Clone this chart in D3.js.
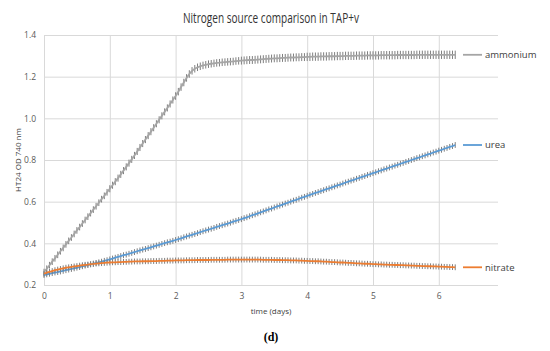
<!DOCTYPE html>
<html>
<head>
<meta charset="utf-8">
<script src="https://cdn.jsdelivr.net/npm/d3@7"></script>
<style>
  body { margin: 0; background: #fff; }
  svg { display: block; }
  text { font-family: "Open Sans", "Noto Sans", sans-serif; }
</style>
</head>
<body>
<div id="chart"></div>
<script>
// hourly readings, 0 .. 150 h
var ammonium = [
  0.262, 0.278, 0.295, 0.312, 0.328, 0.345, 0.362, 0.378, 0.395, 0.412, 0.428, 0.445,
  0.462, 0.478, 0.495, 0.512, 0.528, 0.545, 0.562, 0.578, 0.595, 0.612, 0.628, 0.645,
  0.662, 0.679, 0.696, 0.713, 0.731, 0.749, 0.767, 0.785, 0.803, 0.822, 0.841, 0.860,
  0.879, 0.898, 0.917, 0.936, 0.955, 0.974, 0.993, 1.012, 1.031, 1.050, 1.069, 1.088,
  1.107, 1.128, 1.150, 1.172, 1.194, 1.213, 1.228, 1.238, 1.245, 1.250, 1.254, 1.257,
  1.260, 1.262, 1.264, 1.266, 1.267, 1.269, 1.270, 1.271, 1.272, 1.273, 1.275, 1.276,
  1.277, 1.278, 1.279, 1.280, 1.280, 1.281, 1.282, 1.283, 1.284, 1.285, 1.286, 1.287,
  1.288, 1.288, 1.289, 1.290, 1.290, 1.291, 1.292, 1.292, 1.293, 1.293, 1.294, 1.294,
  1.295, 1.295, 1.296, 1.296, 1.296, 1.297, 1.297, 1.297, 1.298, 1.298, 1.298, 1.299,
  1.299, 1.299, 1.300, 1.300, 1.300, 1.300, 1.301, 1.301, 1.301, 1.301, 1.302, 1.302,
  1.302, 1.302, 1.302, 1.303, 1.303, 1.303, 1.303, 1.303, 1.303, 1.304, 1.304, 1.304,
  1.304, 1.304, 1.304, 1.304, 1.305, 1.305, 1.305, 1.305, 1.305, 1.305, 1.305, 1.305,
  1.305, 1.305, 1.305, 1.305, 1.305, 1.305, 1.305
];
var urea = [
  0.248, 0.251, 0.254, 0.257, 0.260, 0.262, 0.265, 0.268, 0.271, 0.274, 0.277, 0.280,
  0.283, 0.286, 0.290, 0.293, 0.296, 0.299, 0.303, 0.306, 0.309, 0.312, 0.316, 0.319,
  0.323, 0.327, 0.331, 0.335, 0.339, 0.343, 0.346, 0.350, 0.354, 0.358, 0.362, 0.366,
  0.370, 0.373, 0.377, 0.381, 0.385, 0.389, 0.393, 0.397, 0.401, 0.405, 0.408, 0.412,
  0.416, 0.420, 0.424, 0.429, 0.433, 0.437, 0.441, 0.445, 0.449, 0.454, 0.458, 0.462,
  0.466, 0.470, 0.474, 0.479, 0.483, 0.487, 0.491, 0.495, 0.499, 0.504, 0.508, 0.512,
  0.516, 0.521, 0.525, 0.530, 0.535, 0.539, 0.544, 0.549, 0.553, 0.558, 0.563, 0.567,
  0.572, 0.577, 0.581, 0.586, 0.591, 0.595, 0.600, 0.605, 0.609, 0.614, 0.619, 0.623,
  0.628, 0.633, 0.637, 0.642, 0.646, 0.651, 0.655, 0.660, 0.664, 0.669, 0.673, 0.678,
  0.682, 0.687, 0.692, 0.696, 0.701, 0.705, 0.710, 0.714, 0.719, 0.723, 0.728, 0.732,
  0.737, 0.741, 0.746, 0.750, 0.755, 0.759, 0.764, 0.768, 0.773, 0.777, 0.782, 0.786,
  0.791, 0.795, 0.800, 0.804, 0.809, 0.813, 0.818, 0.822, 0.827, 0.831, 0.836, 0.840,
  0.845, 0.849, 0.854, 0.858, 0.863, 0.867, 0.872
];
var nitrate = [
  0.254, 0.259, 0.263, 0.267, 0.271, 0.274, 0.277, 0.280, 0.283, 0.285, 0.287, 0.289,
  0.291, 0.293, 0.295, 0.297, 0.298, 0.300, 0.301, 0.303, 0.304, 0.305, 0.306, 0.307,
  0.308, 0.309, 0.309, 0.310, 0.310, 0.311, 0.311, 0.312, 0.312, 0.313, 0.313, 0.313,
  0.314, 0.314, 0.314, 0.315, 0.315, 0.315, 0.316, 0.316, 0.316, 0.317, 0.317, 0.317,
  0.318, 0.318, 0.318, 0.318, 0.319, 0.319, 0.319, 0.319, 0.320, 0.320, 0.320, 0.320,
  0.320, 0.321, 0.321, 0.321, 0.321, 0.321, 0.321, 0.322, 0.322, 0.322, 0.322, 0.322,
  0.322, 0.322, 0.322, 0.322, 0.322, 0.322, 0.322, 0.322, 0.321, 0.321, 0.321, 0.321,
  0.320, 0.320, 0.320, 0.319, 0.319, 0.319, 0.318, 0.318, 0.318, 0.317, 0.317, 0.316,
  0.316, 0.315, 0.315, 0.314, 0.314, 0.313, 0.312, 0.312, 0.311, 0.310, 0.310, 0.309,
  0.308, 0.308, 0.307, 0.306, 0.306, 0.305, 0.304, 0.304, 0.303, 0.302, 0.302, 0.301,
  0.300, 0.300, 0.299, 0.299, 0.298, 0.298, 0.297, 0.297, 0.296, 0.296, 0.295, 0.295,
  0.294, 0.294, 0.293, 0.293, 0.292, 0.292, 0.291, 0.291, 0.290, 0.290, 0.289, 0.289,
  0.288, 0.288, 0.287, 0.287, 0.286, 0.286, 0.285
];

// error bar half-widths, one per day (day 0 .. 6)
var ammoniumErr = [0.016, 0.017, 0.018, 0.019, 0.020, 0.020, 0.020];
var ureaErr     = [0.014, 0.014, 0.014, 0.014, 0.014, 0.014, 0.014];
var nitrateErr  = [0.014, 0.014, 0.014, 0.014, 0.014, 0.014, 0.014];

var seriesNames = ['ammonium', 'urea', 'nitrate'];
var xTicks = [0, 1, 2, 3, 4, 5, 6];
var yTicks = [0.2, 0.4, 0.6, 0.8, 1.0, 1.2, 1.4];

var colors = { ammonium: '#a5a5a5', urea: '#5b9bd5', nitrate: '#ed7d31' };

var series = [
  { name: 'ammonium', values: ammonium, err: ammoniumErr },
  { name: 'urea', values: urea, err: ureaErr },
  { name: 'nitrate', values: nitrate, err: nitrateErr }
];

var width = 550, height = 351;

var x = d3.scaleLinear().domain([0, 6.9]).range([44, 498]),
    y = d3.scaleLinear().domain([0.2, 1.4]).range([285, 35]);

var svg = d3.select('#chart')
          .append('svg')
            .attr('width', width).attr('height', height);

// gridlines
svg.append('g')
  .attr('transform', 'translate(0,285)')
  .call(d3.axisBottom(x).tickValues(xTicks).tickSize(-250).tickFormat(''))
  .call(function(g) { g.select('.domain').remove(); })
  .selectAll('line').attr('stroke', '#d9d9d9');

svg.append('g')
  .attr('transform', 'translate(44,0)')
  .call(d3.axisLeft(y).tickValues(yTicks).tickSize(-454).tickFormat(''))
  .call(function(g) { g.select('.domain').remove(); })
  .selectAll('line').attr('stroke', '#d9d9d9');

// tick labels
svg.append('g')
  .attr('transform', 'translate(0,285)')
  .call(d3.axisBottom(x).tickValues(xTicks).tickSize(0).tickPadding(8).tickFormat(d3.format('d')))
  .call(function(g) { g.select('.domain').remove(); })
  .selectAll('text')
    .attr('fill', '#595959')
    .style('font-size', '8.5px');

svg.append('g')
  .attr('transform', 'translate(44,0)')
  .call(d3.axisLeft(y).tickValues(yTicks).tickSize(0).tickPadding(8).tickFormat(d3.format('.1f')))
  .call(function(g) { g.select('.domain').remove(); })
  .selectAll('text')
    .attr('fill', '#595959')
    .style('font-size', '8.5px');

var line = d3.line()
  .x(function(d, i) { return x(i / 24); })
  .y(function(d) { return y(d); });

series.forEach(function(s) {
  var g = svg.append('g').attr('class', 'series-' + s.name);

  g.selectAll('line.err')
    .data(s.values)
    .enter().append('line')
      .attr('class', 'err')
      .attr('x1', function(d, i) { return x(i / 24); })
      .attr('x2', function(d, i) { return x(i / 24); })
      .attr('y1', function(d, i) { return y(d - s.err[Math.floor(i / 24)]); })
      .attr('y2', function(d, i) { return y(d + s.err[Math.floor(i / 24)]); })
      .attr('stroke', '#7f7f7f')
      .attr('stroke-width', 1);

  g.append('path')
    .datum(s.values)
    .attr('fill', 'none')
    .attr('stroke', colors[s.name])
    .attr('stroke-width', 1.8)
    .attr('d', line);

  // legend entry beside last point
  var last = s.values[s.values.length - 1];
  g.append('line')
    .attr('x1', 463).attr('x2', 482)
    .attr('y1', y(last)).attr('y2', y(last))
    .attr('stroke', colors[s.name])
    .attr('stroke-width', 1.8);
  g.append('text')
    .attr('x', 485).attr('y', y(last))
    .attr('dy', '0.35em')
    .attr('fill', '#404040')
    .style('font-size', '9.5px')
    .text(s.name);
});

// title and axis titles
svg.append('text')
  .attr('x', 271).attr('y', 23)
  .attr('text-anchor', 'middle')
  .attr('fill', '#333')
  .attr('textLength', 176)
  .attr('lengthAdjust', 'spacingAndGlyphs')
  .style('font-family', '"Liberation Sans Narrow", "Open Sans", sans-serif')
  .style('font-size', '14px')
  .text('Nitrogen source comparison in TAP+v');

svg.append('text')
  .attr('transform', 'translate(21,160) rotate(-90)')
  .attr('text-anchor', 'middle')
  .attr('fill', '#404040')
  .style('font-size', '8px')
  .text('HT24 OD 740 nm');

svg.append('text')
  .attr('x', 271).attr('y', 314)
  .attr('text-anchor', 'middle')
  .attr('fill', '#404040')
  .style('font-size', '8px')
  .text('time (days)');

svg.append('text')
  .attr('x', 271).attr('y', 341)
  .attr('text-anchor', 'middle')
  .attr('fill', '#000')
  .style('font-family', '"Liberation Serif", "DejaVu Serif", serif')
  .style('font-weight', 'bold')
  .style('font-size', '12px')
  .text('(d)');
</script>
</body>
</html>
